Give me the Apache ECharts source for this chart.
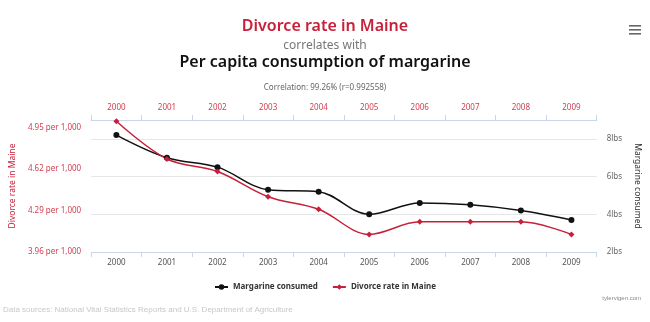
<!DOCTYPE html>
<html>
<head>
<meta charset="utf-8">
<script src="https://cdn.jsdelivr.net/npm/echarts@6/dist/echarts.min.js"></script>
<style>
html,body{margin:0;padding:0;background:#fff;}
#chart{width:650px;height:322px;}
</style>
</head>
<body>
<div id="chart"></div>
<script>
var years = ['2000','2001','2002','2003','2004','2005','2006','2007','2008','2009'];
var margarine = [8.2, 7.0, 6.5, 5.3, 5.2, 4.0, 4.6, 4.5, 4.2, 3.7];
var divorce = [5.0, 4.7, 4.6, 4.4, 4.3, 4.1, 4.2, 4.2, 4.2, 4.1];
var divorceTicks = [3.96, 4.29, 4.62, 4.95];
var margarineTicks = [2, 4, 6, 8];

var RED = '#c8203a';
var LABEL_RED = '#cf3f50';
var AXIS_BLUE = '#ccd6eb';
var FONT = 'Noto Sans';

var chart = echarts.init(document.getElementById('chart'), null, {renderer: 'canvas'});

function near(list, v) {
  for (var i = 0; i < list.length; i++) { if (Math.abs(list[i] - v) < 1e-6) return true; }
  return false;
}

var option = {
  animation: false,
  backgroundColor: '#ffffff',
  title: [
    {text: 'Divorce rate in Maine', left: 'center', top: 13,
     textStyle: {color: RED, fontSize: 16, fontWeight: 600, fontFamily: FONT}},
    {text: 'correlates with', left: 'center', top: 35,
     textStyle: {color: '#777', fontSize: 12, fontWeight: 'normal', fontFamily: FONT}},
    {text: 'Per capita consumption of margarine', left: 'center', top: 49,
     textStyle: {color: '#111', fontSize: 16, fontWeight: 600, fontFamily: FONT}},
    {text: 'Correlation: 99.26% (r=0.992558)', left: 'center', top: 79,
     textStyle: {color: '#666', fontSize: 8, fontWeight: 'normal', fontFamily: FONT}}
  ],
  grid: {left: 87, right: 50, top: 120, bottom: 70, containLabel: false},
  legend: {
    data: ['Margarine consumed', 'Divorce rate in Maine'],
    left: 'center', top: 278, itemWidth: 13, itemHeight: 7, itemGap: 14,
    textStyle: {color: '#333', fontSize: 8, fontWeight: 'bold', fontFamily: FONT}
  },
  xAxis: [
    {type: 'category', data: years, position: 'bottom', boundaryGap: true,
     axisLine: {lineStyle: {color: AXIS_BLUE}},
     axisTick: {show: true, length: 5, lineStyle: {color: AXIS_BLUE}},
     axisLabel: {color: '#555', fontSize: 8, margin: 7, fontFamily: FONT}},
    {type: 'category', data: years, position: 'top', boundaryGap: true,
     axisLine: {lineStyle: {color: AXIS_BLUE}},
     axisTick: {show: true, length: 5, lineStyle: {color: AXIS_BLUE}},
     axisLabel: {color: LABEL_RED, fontSize: 8, margin: 8, fontFamily: FONT}}
  ],
  yAxis: [
    {type: 'value', position: 'left', min: 3.96, max: 5.01, interval: 0.33,
     splitLine: {show: false}, axisLine: {show: false}, axisTick: {show: false},
     axisLabel: {color: LABEL_RED, fontSize: 8, margin: 10, fontFamily: FONT,
       formatter: function (v) { return near(divorceTicks, v) ? v.toFixed(2) + ' per 1,000' : ''; }},
     name: 'Divorce rate in Maine', nameLocation: 'middle', nameRotate: 90, nameGap: 61,
     nameTextStyle: {color: RED, fontSize: 8.5, fontFamily: FONT}},
    {type: 'value', position: 'right', min: 2, max: 9, interval: 2,
     splitLine: {show: true, lineStyle: {color: '#e6e6e6'}},
     axisLine: {show: false}, axisTick: {show: false},
     axisLabel: {color: '#666', fontSize: 8, margin: 10, fontFamily: FONT, showMaxLabel: false,
       formatter: function (v) { return near(margarineTicks, v) ? v + 'lbs' : ''; }},
     name: 'Margarine consumed', nameLocation: 'middle', nameRotate: -90, nameGap: 25,
     nameTextStyle: {color: '#333', fontSize: 8.5, fontFamily: FONT}}
  ],
  series: [
    {name: 'Margarine consumed', type: 'line', yAxisIndex: 1, data: margarine,
     smooth: 0.35, symbol: 'circle', symbolSize: 6,
     lineStyle: {color: '#111', width: 1.5}, itemStyle: {color: '#111'}},
    {name: 'Divorce rate in Maine', type: 'line', yAxisIndex: 0, data: divorce,
     smooth: 0.35, symbol: 'diamond', symbolSize: 6,
     lineStyle: {color: RED, width: 1.5}, itemStyle: {color: RED}}
  ],
  graphic: [
    {type: 'rect', left: 629, top: 25, shape: {width: 12, height: 1.6}, style: {fill: '#666'}},
    {type: 'rect', left: 629, top: 29, shape: {width: 12, height: 1.6}, style: {fill: '#666'}},
    {type: 'rect', left: 629, top: 33, shape: {width: 12, height: 1.6}, style: {fill: '#666'}},
    {type: 'text', right: 9, top: 295, style: {text: 'tylervigen.com', fill: '#888', font: '6px "Liberation Sans"'}},
    {type: 'text', left: 3, top: 306, style: {text: 'Data sources: National Vital Statistics Reports and U.S. Department of Agriculture', fill: '#c8c8c8', font: '8px "Liberation Sans"'}}
  ]
};
chart.setOption(option);
</script>
</body>
</html>
